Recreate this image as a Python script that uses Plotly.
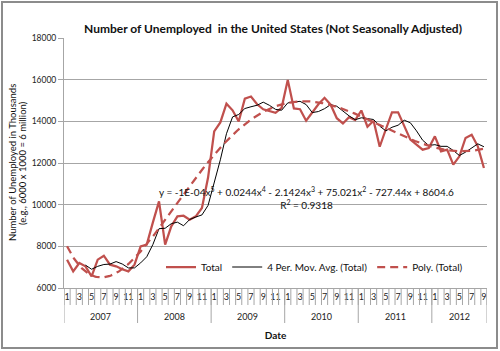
import numpy as np
import pandas as pd
import plotly.graph_objects as go

# ---------------- data ----------------
years = ["2007", "2008", "2009", "2010", "2011", "2012"]
months_in_year = [12, 12, 12, 12, 12, 9]
shown_months = ["1", "3", "5", "7", "9", "11"]

total = [
    # 2007
    7360, 6800, 7200, 7040, 6560, 7360, 7550, 7120, 7040, 6900, 6800, 7120,
    # 2008
    8000, 8080, 9150, 10160, 8080, 8960, 9440, 9470, 9280, 9440, 9840, 11300,
    # 2009
    13520, 13950, 14850, 14530, 13990, 15090, 15190, 14820, 14580, 14490, 14410, 14650,
    # 2010
    15990, 14620, 14580, 14030, 14450, 14820, 15130, 14800, 14150, 13900, 14200, 14060,
    # 2011
    14520, 13740, 14030, 12780, 13620, 14430, 14430, 13740, 13120, 12880, 12640, 12720,
    # 2012
    13280, 12560, 12640, 11920, 12320, 13200, 13360, 12800, 11760,
]

equation_text = ("y = -1E-04x<sup>5</sup> + 0.0244x<sup>4</sup> - 2.1424x<sup>3</sup> + "
                 "75.021x<sup>2</sup> - 727.44x + 8604.6<br>R<sup>2</sup> = 0.9318")
y_title_lines = ["Number of Unemployed in Thousands", "(e.g., 6000 x 1000 = 6 million)"]

# ---------------- derived ----------------
n = len(total)
idx = np.arange(n)
s = pd.Series(total, dtype=float)
mov_avg = s.rolling(4).mean()

coef = np.polyfit(idx + 1, s.values, 5)
fine = np.linspace(0, n - 1, 400)
trend = np.polyval(coef, fine + 1)

tickvals, ticktext = [], []
year_starts = []
start = 0
for y, m in zip(years, months_in_year):
    year_starts.append(start)
    for k in range(m):
        if str(k + 1) in shown_months:
            tickvals.append(start + k)
            ticktext.append(str(k + 1))
    start += m

RED = "#c0504d"
GRID = "#a6a6a6"
FONT = "Lato"

fig = go.Figure()
fig.add_trace(go.Scatter(x=idx, y=total, mode="lines", name="Total",
                         line=dict(color=RED, width=2.25)))
fig.add_trace(go.Scatter(x=idx, y=mov_avg, mode="lines", name="4 Per. Mov. Avg. (Total)",
                         line=dict(color="#000000", width=1)))
fig.add_trace(go.Scatter(x=fine, y=trend, mode="lines", name="Poly. (Total)",
                         line=dict(color=RED, width=2.25, dash="8px,5px")))

L, R, T, B = 64, 13, 38, 63
W, H = 500, 351
pw, ph = W - L - R, H - T - B

shapes = []
# month separators
for k in range(n + 1):
    shapes.append(dict(type="line", xref="x", yref="paper", x0=k - 0.5, x1=k - 0.5,
                       y0=0, y1=-17 / ph, line=dict(color=GRID, width=1)))
# year dividers
for st in year_starts + [n]:
    shapes.append(dict(type="line", xref="x", yref="paper", x0=st - 0.5, x1=st - 0.5,
                       y0=0, y1=-35 / ph, line=dict(color=GRID, width=1)))
# chart border
shapes.append(dict(type="rect", xref="paper", yref="paper",
                   x0=-(L - 2) / pw, x1=1 + (R - 3) / pw,
                   y0=-(B - 3) / ph, y1=1 + (T - 2) / ph,
                   line=dict(color="#8c8c8c", width=2)))

annotations = []
for y, st, m in zip(years, year_starts, months_in_year):
    annotations.append(dict(x=st + (m - 1) / 2, y=(H - B - 316) / ph,
                            xref="x", yref="paper", text=y, showarrow=False,
                            font=dict(family=FONT, size=9, color="#222"),
                            xanchor="center", yanchor="middle"))
annotations.append(dict(x=(306 - L) / pw, y=(H - B - 198) / ph, xref="paper", yref="paper",
                        text=equation_text, showarrow=False, align="center",
                        font=dict(family=FONT, size=10, color="#111"),
                        xanchor="center", yanchor="middle"))
for txt, px in zip(y_title_lines, [12, 22]):
    annotations.append(dict(x=(px - L) / pw, y=(H - B - 163) / ph, xref="paper", yref="paper",
                            text=txt, showarrow=False, textangle=-90,
                            font=dict(family=FONT, size=9.5, color="#111"),
                            xanchor="center", yanchor="middle"))

fig.update_layout(
    width=W, height=H,
    margin=dict(l=L, r=R, t=T, b=B),
    paper_bgcolor="white", plot_bgcolor="white",
    font=dict(family=FONT, color="#222"),
    title=dict(text="<b>Number of Unemployed  in the United States (Not Seasonally Adjusted)</b>",
               x=273 / W, xref="container", xanchor="center",
               y=1 - 29 / H, yref="container", yanchor="middle",
               font=dict(family=FONT, size=12, color="#111")),
    showlegend=True,
    legend=dict(orientation="h", x=(161 - L) / pw, y=(H - B - 267) / ph,
                xanchor="left", yanchor="middle", bgcolor="rgba(0,0,0,0)",
                font=dict(family=FONT, size=10, color="#111"), itemwidth=30),
    shapes=shapes,
    annotations=annotations,
)
fig.update_xaxes(range=[-0.5, n - 0.5], tickvals=tickvals, ticktext=ticktext,
                 showgrid=False, zeroline=False, showline=True, linecolor=GRID,
                 ticks="", tickfont=dict(family=FONT, size=9, color="#222"),
                 title=dict(text="<b>Date</b>", font=dict(family=FONT, size=10, color="#111"),
                            standoff=31))
fig.update_yaxes(range=[6000, 18000], dtick=2000, tickformat="d",
                 showgrid=True, gridcolor=GRID,
                 gridwidth=1, zeroline=False, showline=True, linecolor=GRID,
                 ticks="outside", ticklen=5, tickcolor=GRID,
                 tickfont=dict(family=FONT, size=8.5, color="#222"))

fig.write_html("out.html")
